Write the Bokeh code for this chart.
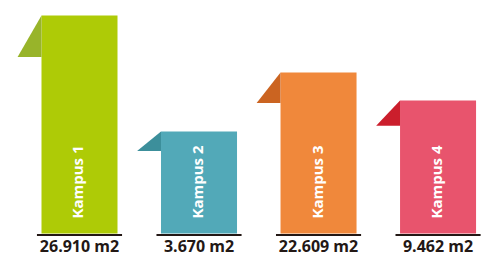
import numpy as np
from bokeh.plotting import figure
from bokeh.models import Range1d
from bokeh.embed import file_html
from bokeh.resources import INLINE
from bokeh.core.properties import value

campuses = ["Kampus 1", "Kampus 2", "Kampus 3", "Kampus 4"]
areas = ["26.910 m2", "3.670 m2", "22.609 m2", "9.462 m2"]
bar_heights = [218, 102, 161, 133]          # decorative heights (as drawn)
bar_colors = ["#AECB06", "#52A9B8", "#F0883B", "#E8546D"]
flag_colors = ["#98B42A", "#3C8F9B", "#CB6421", "#CB1E2C"]

idx = list(range(len(campuses)))
W = 0.636          # bar width in category units
FLAG_W = 0.20      # flag width
FLAG_H = 0.19      # flag height as fraction of bar height
LINE_HALF = 0.356

p = figure(width=485, height=257,
           x_range=Range1d(-0.661, 3.397), y_range=Range1d(-24, 233),
           output_backend="svg", toolbar_location=None, min_border=0)
p.axis.visible = False
p.grid.visible = False
p.outline_line_color = None
p.background_fill_color = "white"
p.border_fill_color = "white"

# bars
p.vbar(x=idx, top=bar_heights, bottom=0, width=W,
       fill_color=bar_colors, line_color=None)

# folded flags on the left of each bar
xs = [[i - W / 2 - FLAG_W, i - W / 2, i - W / 2] for i in idx]
ys = [[h * (1 - FLAG_H), h, h * (1 - FLAG_H)] for h in bar_heights]
p.patches(xs, ys, fill_color=flag_colors, line_color=None)

# base lines
p.segment(x0=[i - LINE_HALF for i in idx], x1=[i + LINE_HALF for i in idx],
          y0=-1.5, y1=-1.5, line_width=2, line_color="#231815")

# rotated names inside bars
p.text(x=[i - 0.017 for i in idx], y=15, text=campuses, angle=np.pi / 2,
       text_align="left", text_baseline="middle", text_color="white",
       text_font=value("Open Sans"), text_font_style="bold",
       text_font_size="15px")

# area labels
p.text(x=idx, y=-23.5, text=areas, text_align="center",
       text_baseline="bottom", text_color="#231815",
       text_font=value("Open Sans"), text_font_style="bold",
       text_font_size="16px")

open("out.html", "w").write(file_html(p, INLINE))
